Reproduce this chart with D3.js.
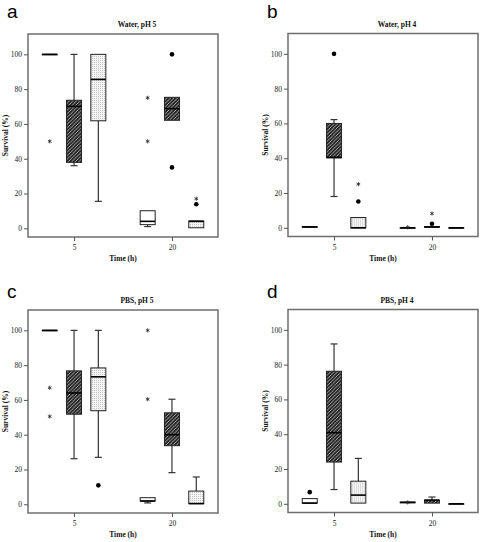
<!DOCTYPE html>
<html><head><meta charset="utf-8">
<script src="https://cdn.jsdelivr.net/npm/d3@7"></script>
<style>body{margin:0;background:#fff}svg{display:block}</style>
</head><body>
<svg id="chart" width="480" height="542"></svg>
<script>
// ---- data ----
const times = ["5", "20"];
const groups = ["plain", "hatched", "dotted"];
const titles = ["Water, pH 5", "Water, pH 4", "PBS, pH 5", "PBS, pH 4"];
const letters = ["a", "b", "c", "d"];
const yTicks = [0, 20, 40, 60, 80, 100];
const xLabel = "Time (h)";
const yLabel = "Survival (%)";

// box stats: [whiskerLow, q1, median, q3, whiskerHigh]
// order: 5h plain, 5h hatched, 5h dotted, 20h plain, 20h hatched, 20h dotted
const boxesA = [
  [100, 100, 100, 100, 100],
  [36, 37.9, 70.1, 73.6, 100],
  [15.5, 61.8, 85.6, 100, 100],
  [1, 2.1, 4, 10.1, 10.1],
  [62.1, 62.1, 68.8, 75.3, 75.3],
  [0.3, 0.3, 4, 4.2, 4.2]
];
const boxesB = [
  [0.3, 0.3, 0.5, 0.7, 0.7],
  [18, 40.2, 40.5, 60, 62.2],
  [0, 0, 0, 5.9, 5.9],
  [0, 0, 0, 0, 0],
  [0.3, 0.3, 0.5, 0.7, 0.7],
  [0, 0, 0, 0, 0]
];
const boxesC = [
  [100, 100, 100, 100, 100],
  [26.2, 51.8, 64, 76.7, 100],
  [27, 53.8, 73.3, 78.4, 100],
  [0.8, 1.9, 1.9, 3.8, 3.8],
  [18.2, 33.7, 40, 52.6, 60.4],
  [0.4, 0.4, 0.4, 7.6, 15.7]
];
const boxesD = [
  [0.4, 0.4, 0.4, 3, 3],
  [8.2, 24, 40.9, 76.2, 91.9],
  [0.4, 0.4, 5, 13, 26.1],
  [0.6, 0.6, 0.8, 1, 1],
  [0.4, 0.4, 2.1, 2.1, 3.9],
  [0, 0, 0, 0, 0]
];

// outliers: [boxIndex, value, marker]
const outliersA = [[0, 50, "star"], [3, 75, "star"], [3, 50, "star"], [4, 100, "dot"], [4, 35, "dot"], [5, 17, "star"], [5, 13.8, "dot"]];
const outliersB = [[1, 100, "dot"], [2, 25.1, "star"], [2, 15.1, "dot"], [3, 0.3, "star"], [4, 8.2, "star"], [4, 2.3, "dot"]];
const outliersC = [[0, 67, "star"], [0, 50.5, "star"], [2, 10.9, "dot"], [3, 100, "star"], [3, 60.4, "star"]];
const outliersD = [[0, 6.7, "dot"], [3, 0.8, "star"]];

// ---- drawing ----
const svg = d3.select("#chart");
const defs = svg.append("defs");

const ph = defs.append("pattern").attr("id", "hatched").attr("patternUnits", "userSpaceOnUse")
  .attr("width", 3.5).attr("height", 3.5);
ph.append("rect").attr("width", 3.5).attr("height", 3.5).attr("fill", "#262626");
ph.append("path").attr("d", "M-1,1 l2,-2 M0,3.5 l3.5,-3.5 M2.5,4.5 l2,-2")
  .attr("stroke", "#c8c8c8").attr("stroke-width", 0.8);

const pd = defs.append("pattern").attr("id", "dotted").attr("patternUnits", "userSpaceOnUse")
  .attr("width", 2).attr("height", 2);
pd.append("rect").attr("width", 2).attr("height", 2).attr("fill", "#f4f4f4");
pd.append("rect").attr("width", 1).attr("height", 1).attr("fill", "#c4c4c4");

const fills = { plain: "#ffffff", hatched: "url(#hatched)", dotted: "url(#dotted)" };

const panels = [
  { boxes: boxesA, outs: outliersA, x0: 28, y0: 34 },
  { boxes: boxesB, outs: outliersB, x0: 288, y0: 33.5 },
  { boxes: boxesC, outs: outliersC, x0: 28, y0: 310 },
  { boxes: boxesD, outs: outliersD, x0: 288, y0: 309.5 }
];

const W = 190, H = 203, BW = 15, CAP = 7;
const serif = "'Liberation Serif','DejaVu Serif',serif";

panels.forEach((p, pi) => {
  const g = svg.append("g").attr("transform", `translate(${p.x0},${p.y0})`);
  const y = d3.scaleLinear().domain([-5, 111.7]).range([H, 0]);
  const x = d3.scalePoint().domain(times).range([0, W]).padding(0.47);
  const off = d3.scalePoint().domain(groups).range([-24.3, 24.3]);
  const cxOf = i => x(times[Math.floor(i / 3)]) + off(groups[i % 3]);

  // frame
  g.append("rect").attr("x", 0).attr("y", 0).attr("width", W).attr("height", H)
    .attr("fill", "none").attr("stroke", "#6e6e6e").attr("stroke-width", 1.5);

  // axes
  const ya = g.append("g").call(d3.axisLeft(y).tickValues(yTicks).tickSize(4).tickPadding(2));
  const xa = g.append("g").attr("transform", `translate(0,${H})`)
    .call(d3.axisBottom(x).tickSize(4).tickPadding(4));
  [ya, xa].forEach(a => {
    a.select(".domain").remove();
    a.selectAll(".tick line").attr("stroke", "#555").attr("stroke-width", 1);
    a.selectAll(".tick text").attr("font-family", serif).attr("font-size", 7.5).attr("fill", "#222");
  });

  // boxes
  p.boxes.forEach((b, i) => {
    const [lo, q1, med, q3, hi] = b;
    const cx = cxOf(i);
    const bg = g.append("g");
    const wl = (v1, v2) => bg.append("line").attr("x1", cx).attr("x2", cx)
      .attr("y1", y(v1)).attr("y2", y(v2)).attr("stroke", "#333").attr("stroke-width", 1.2);
    if (hi > q3) {
      wl(q3, hi);
      bg.append("line").attr("x1", cx - CAP / 2).attr("x2", cx + CAP / 2)
        .attr("y1", y(hi)).attr("y2", y(hi)).attr("stroke", "#333").attr("stroke-width", 1.2);
    }
    if (lo < q1) {
      wl(lo, q1);
      bg.append("line").attr("x1", cx - CAP / 2).attr("x2", cx + CAP / 2)
        .attr("y1", y(lo)).attr("y2", y(lo)).attr("stroke", "#333").attr("stroke-width", 1.2);
    }
    const top = y(q3), h = Math.max(y(q1) - y(q3), 0.5);
    bg.append("rect").attr("x", cx - BW / 2).attr("y", top).attr("width", BW).attr("height", h)
      .attr("fill", fills[groups[i % 3]]).attr("stroke", "#222").attr("stroke-width", 1);
    bg.append("line").attr("x1", cx - BW / 2).attr("x2", cx + BW / 2)
      .attr("y1", y(med)).attr("y2", y(med)).attr("stroke", "#000").attr("stroke-width", 1.6);
  });

  // outliers
  p.outs.forEach(([bi, v, m]) => {
    const cx = cxOf(bi);
    if (m === "dot") {
      g.append("circle").attr("cx", cx).attr("cy", y(v)).attr("r", 2.3).attr("fill", "#000");
    } else {
      g.append("path").attr("transform", `translate(${cx},${y(v)})`)
        .attr("d", d3.symbol(d3.symbolAsterisk, 12)())
        .attr("fill", "none").attr("stroke", "#222").attr("stroke-width", 0.8);
    }
  });

  // titles & labels
  g.append("text").attr("x", 109).attr("y", -7).attr("text-anchor", "middle")
    .attr("font-family", serif).attr("font-weight", "bold").attr("font-size", 7.5)
    .attr("fill", "#111").text(titles[pi]);
  g.append("text").attr("x", W / 2).attr("y", H + 24).attr("text-anchor", "middle")
    .attr("font-family", serif).attr("font-weight", "bold").attr("font-size", 7.5)
    .attr("fill", "#111").text(xLabel);
  g.append("text").attr("transform", `translate(-20,${H / 2}) rotate(-90)`).attr("text-anchor", "middle")
    .attr("font-family", serif).attr("font-weight", "bold").attr("font-size", 7.5)
    .attr("fill", "#111").text(yLabel);
  g.append("text").attr("x", -21).attr("y", pi < 2 ? -16 : -12)
    .attr("font-family", "'Liberation Sans',Arial,sans-serif").attr("font-size", 19)
    .attr("fill", "#000").text(letters[pi]);
});
</script>
</body></html>
